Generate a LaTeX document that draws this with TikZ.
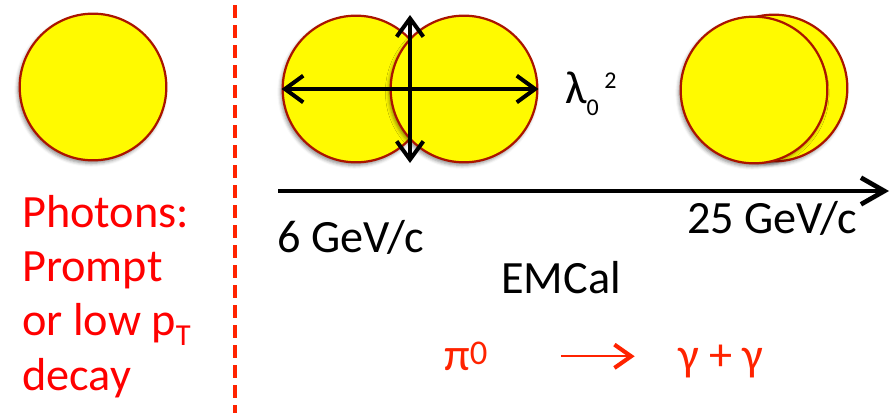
\documentclass[tikz,border=0pt]{standalone}
\usepackage{fontspec}
\setmainfont{Carlito}
\usetikzlibrary{arrows.meta, positioning, shadows.blur}

\definecolor{relleno}{RGB}{255,250,0}
\definecolor{borde}{RGB}{170,20,0}
\definecolor{rojo}{RGB}{255,0,0}
\definecolor{rojodec}{RGB}{255,35,0}

% indices bajos y altos
\newcommand{\indb}[3]{\raisebox{-#1}{\fontsize{#2}{#2}\selectfont #3}}
\newcommand{\inda}[3]{\raisebox{#1}{\fontsize{#2}{#2}\selectfont #3}}

\tikzset{
  cumulo/.style={circle, draw=borde, line width=1.9pt, fill=relleno,
    minimum size=4.4cm, inner sep=0pt,
    blur shadow={shadow xshift=-1.5pt, shadow yshift=-2.5pt,
      shadow blur radius=3pt, shadow opacity=45}},
  etiqueta/.style={font=\fontsize{39.5pt}{46.1pt}\selectfont, inner sep=0pt},
  cota/.style={line width=3.4pt, {Straight Barb[length=5.5mm,width=8mm]}-{Straight Barb[length=5.5mm,width=8mm]}},
}

\begin{document}
\begin{tikzpicture}[x=0.03cm, y=-0.03cm]
    \useasboundingbox (0,0) rectangle (891,413);

    % --- Foton aislado ---
    \node[cumulo] (foton) at (93,87) {};
    \node[etiqueta, text=rojo, anchor=base west, align=left] (tipos) at (22,390)
        {Photons:\\Prompt\\or low p\indb{0.21em}{26pt}{T}\\decay};

    % Separador
    \draw[rojodec, line width=3.4pt, dash pattern=on 0.39cm off 0.21cm] (235,5) -- (235,413);

    % --- Dos fotones separados ---
    \node[cumulo] (izq) at (356,89) {};
    \node[cumulo] (der) at (464,89) {};
    \coordinate (arriba) at (410,15);
    \coordinate (abajo) at (410,163);
    \draw[cota] (izq.west) -- (der.east);
    \draw[cota] (arriba) -- (abajo);
    \node[etiqueta, anchor=base west] (lambda) at (565,103)
        {λ\indb{0.26em}{20.5pt}{0}\hspace{0.12em}\inda{0.32em}{20.5pt}{2}};

    % --- Fotones fusionados ---
    \node[cumulo] (atras) at (774,88) {};
    \node[cumulo] (frente) at (754,90) {};

    % Eje de momento
    \coordinate (ejeA) at (278,191);
    \coordinate (ejeB) at (889,191);
    \draw[line width=4pt, -{Straight Barb[length=7mm,width=8mm]}] (ejeA) -- (ejeB);
    \node[etiqueta, anchor=base west] (bajoP) at (277,252) {6 GeV/c};
    \node[etiqueta, anchor=base west] (altoP) at (687,233) {25 GeV/c};
    \node[etiqueta, anchor=base west] (emcal) at (501,293) {EMCal};

    % Desintegracion del pion
    \node[etiqueta, text=rojodec, anchor=base west] (pion) at (444,370)
        {π\inda{0.11em}{29.6pt}{0}};
    \node[etiqueta, text=rojodec, anchor=base west] (gammas) at (678,370) {γ + γ};
    \draw[rojodec, line width=1.5pt, -{Straight Barb[length=5mm,width=7mm,line width=3.5pt]},
        shorten <=2.2cm, shorten >=1.3cm] (pion.east) -- (pion.east -| gammas.west);

\end{tikzpicture}
\end{document}
